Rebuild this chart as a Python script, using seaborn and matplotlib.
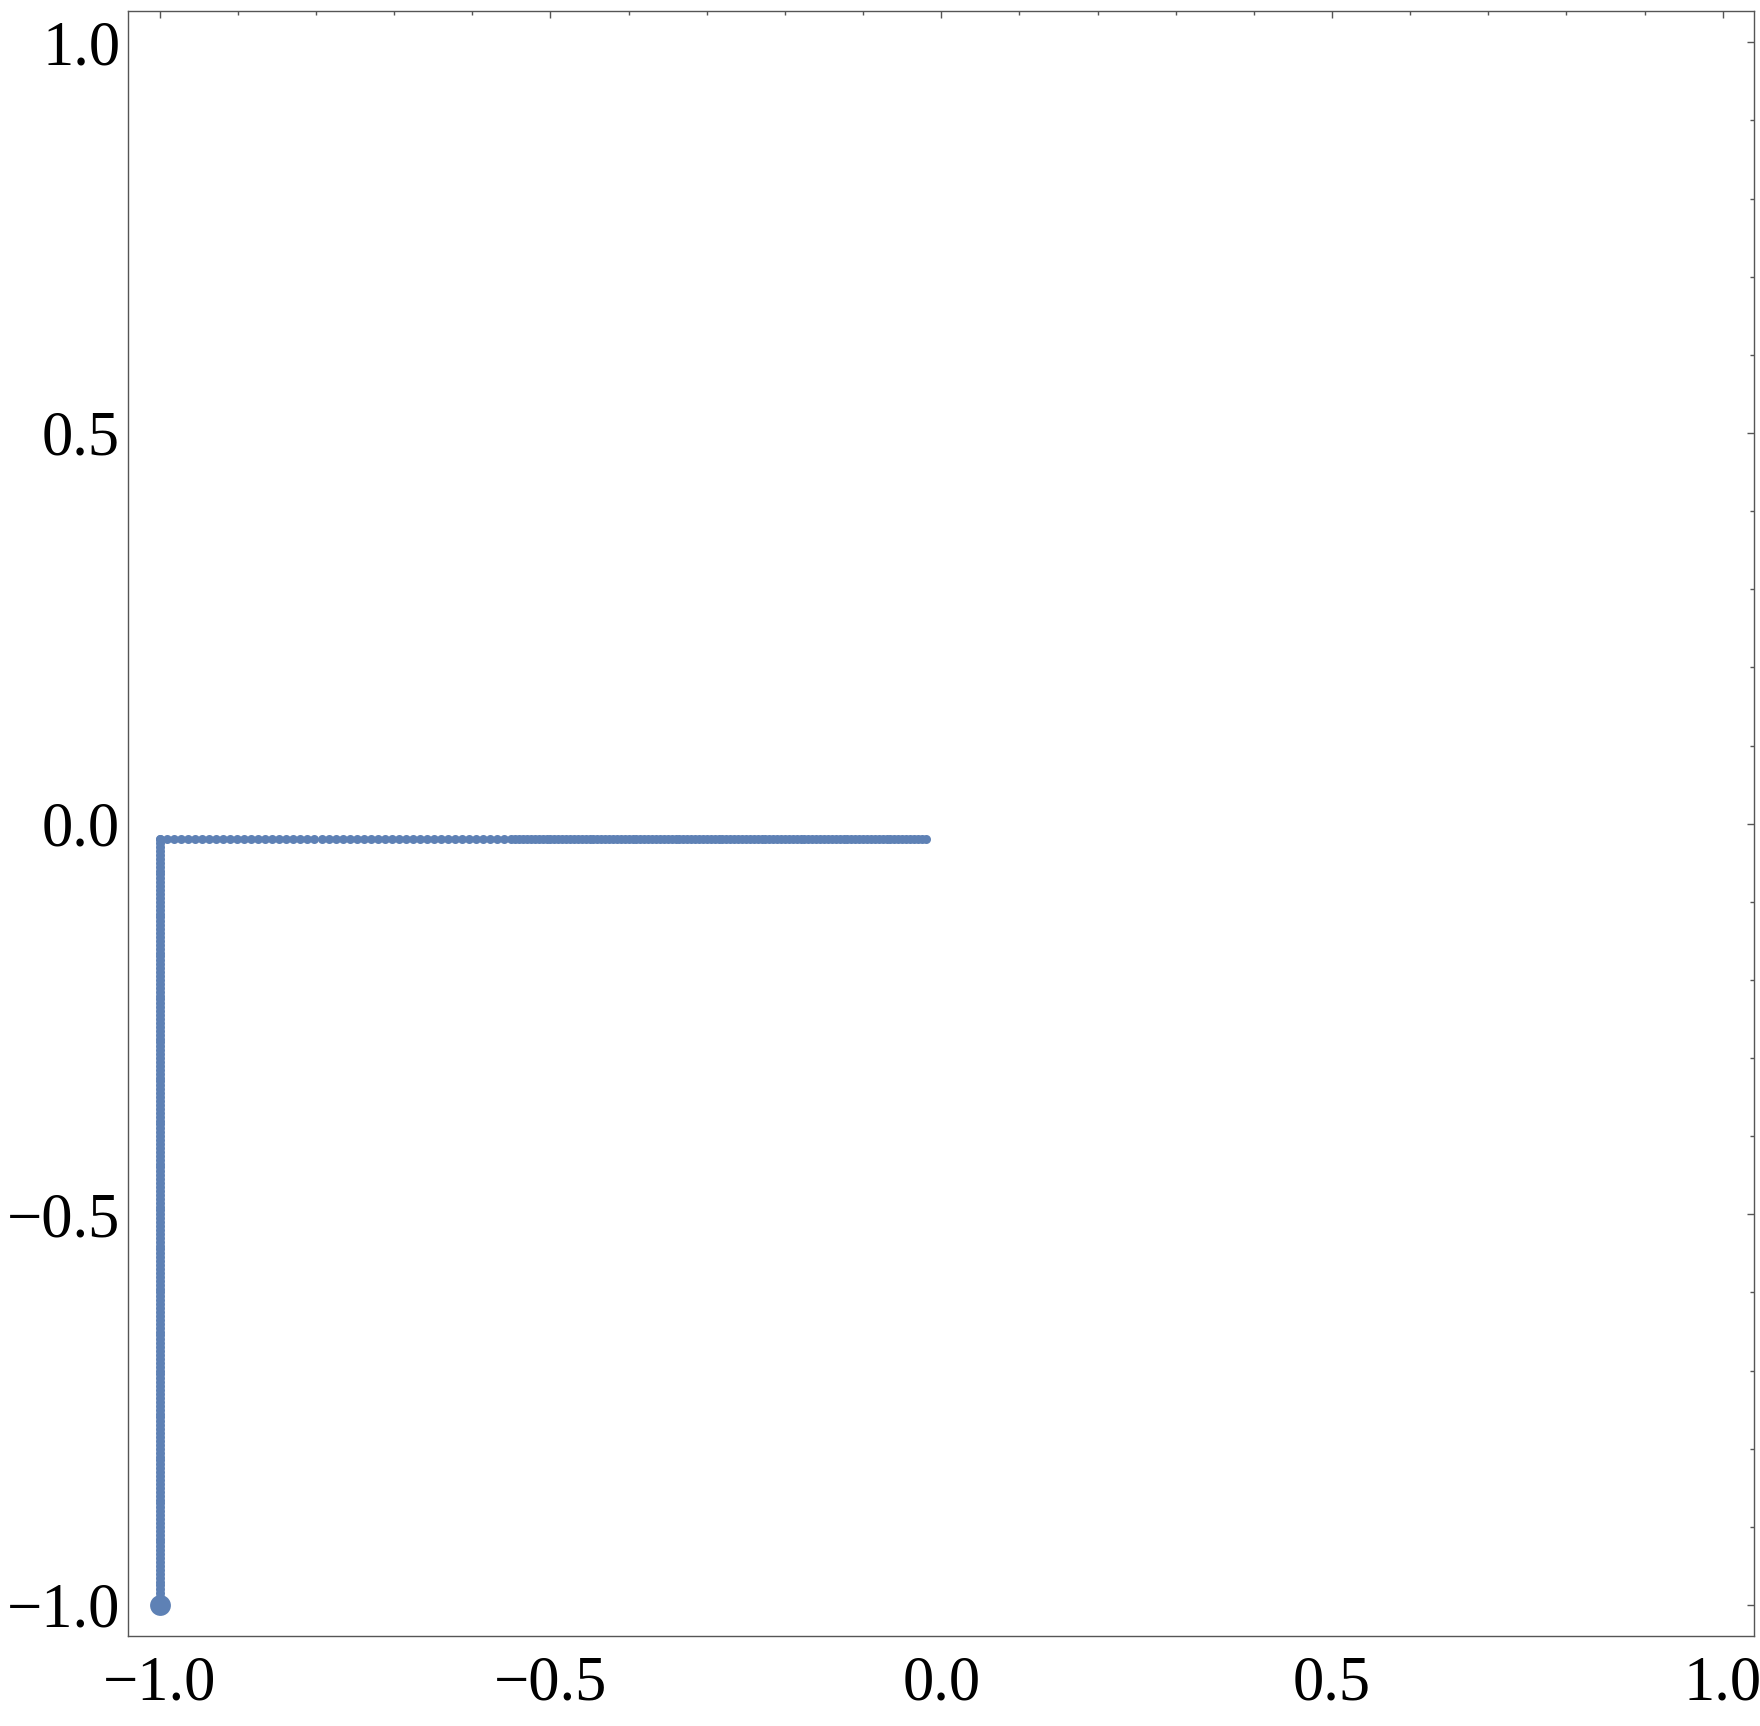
import numpy as np
import pandas as pd
import seaborn as sns
import matplotlib.pyplot as plt
from matplotlib.ticker import MultipleLocator

# puntos del tramo vertical (x = -1)
vert_y = [
    -1.000, -0.995, -0.990, -0.985, -0.980, -0.975, -0.970, -0.965, -0.960, -0.955,
    -0.950, -0.945, -0.940, -0.935, -0.930, -0.925, -0.920, -0.915, -0.910, -0.905,
    -0.900, -0.895, -0.890, -0.885, -0.880, -0.875, -0.870, -0.865, -0.860, -0.855,
    -0.850, -0.845, -0.840, -0.835, -0.830, -0.825, -0.820, -0.815, -0.810, -0.805,
    -0.800, -0.795, -0.790, -0.785, -0.780, -0.775, -0.770, -0.765, -0.760, -0.755,
    -0.750, -0.745, -0.740, -0.735, -0.730, -0.725, -0.720, -0.715, -0.710, -0.705,
    -0.700, -0.695, -0.690, -0.685, -0.680, -0.675, -0.670, -0.665, -0.660, -0.655,
    -0.650, -0.645, -0.640, -0.635, -0.630, -0.625, -0.620, -0.615, -0.610, -0.605,
    -0.600, -0.595, -0.590, -0.585, -0.580, -0.575, -0.570, -0.565, -0.560, -0.555,
    -0.550, -0.545, -0.540, -0.535, -0.530, -0.525, -0.520, -0.515, -0.510, -0.505,
    -0.500, -0.495, -0.490, -0.485, -0.480, -0.475, -0.470, -0.465, -0.460, -0.455,
    -0.450, -0.445, -0.440, -0.435, -0.430, -0.425, -0.420, -0.415, -0.410, -0.405,
    -0.400, -0.395, -0.390, -0.385, -0.380, -0.375, -0.370, -0.365, -0.360, -0.355,
    -0.350, -0.345, -0.340, -0.335, -0.330, -0.325, -0.320, -0.315, -0.310, -0.305,
    -0.300, -0.295, -0.290, -0.285, -0.280, -0.275, -0.270, -0.265, -0.260, -0.255,
    -0.250, -0.245, -0.240, -0.235, -0.230, -0.225, -0.220, -0.215, -0.210, -0.205,
    -0.200, -0.195, -0.190, -0.185, -0.180, -0.175, -0.170, -0.165, -0.160, -0.155,
    -0.150, -0.145, -0.140, -0.135, -0.130, -0.125, -0.120, -0.115, -0.110, -0.105,
    -0.100, -0.095, -0.090, -0.085, -0.080, -0.075, -0.070, -0.065, -0.060, -0.055,
    -0.050, -0.045, -0.040, -0.035, -0.030, -0.025, -0.020,
]
vert_x = [-1.0] * len(vert_y)

# puntos del tramo horizontal (y = -0.02), más densos hacia la derecha
horiz_x = [
    -1.000, -0.991, -0.982, -0.973, -0.964, -0.955, -0.946, -0.937, -0.928, -0.919,
    -0.910, -0.901, -0.892, -0.883, -0.874, -0.865, -0.856, -0.847, -0.838, -0.829,
    -0.820, -0.811, -0.802, -0.793, -0.784, -0.775, -0.766, -0.757, -0.748, -0.739,
    -0.730, -0.721, -0.712, -0.703, -0.694, -0.685, -0.676, -0.667, -0.658, -0.649,
    -0.640, -0.631, -0.622, -0.613, -0.604, -0.595, -0.586, -0.577, -0.568, -0.559,
    -0.550, -0.545, -0.540, -0.535, -0.530, -0.525, -0.520, -0.515, -0.510, -0.505,
    -0.500, -0.495, -0.490, -0.485, -0.480, -0.475, -0.470, -0.465, -0.460, -0.455,
    -0.450, -0.445, -0.440, -0.435, -0.430, -0.425, -0.420, -0.415, -0.410, -0.405,
    -0.400, -0.395, -0.390, -0.385, -0.380, -0.375, -0.370, -0.365, -0.360, -0.355,
    -0.350, -0.345, -0.340, -0.335, -0.330, -0.325, -0.320, -0.315, -0.310, -0.305,
    -0.300, -0.295, -0.290, -0.285, -0.280, -0.275, -0.270, -0.265, -0.260, -0.255,
    -0.250, -0.245, -0.240, -0.235, -0.230, -0.225, -0.220, -0.215, -0.210, -0.205,
    -0.200, -0.195, -0.190, -0.185, -0.180, -0.175, -0.170, -0.165, -0.160, -0.155,
    -0.150, -0.145, -0.140, -0.135, -0.130, -0.125, -0.120, -0.115, -0.110, -0.105,
    -0.100, -0.095, -0.090, -0.085, -0.080, -0.075, -0.070, -0.065, -0.060, -0.055,
    -0.050, -0.045, -0.040, -0.035, -0.030, -0.025, -0.020,
]
horiz_y = [-0.02] * len(horiz_x)

# punto inicial
start_x = [-1.0]
start_y = [-1.0]

color = "#5E81B5"
tick_color = "#555555"

sns.set_style("white")
plt.rcParams['font.family'] = ['Liberation Serif', 'DejaVu Serif']

camino = pd.DataFrame({
    "x": vert_x + horiz_x,
    "y": vert_y + horiz_y,
})
inicio = pd.DataFrame({"x": start_x, "y": start_y})

fig = plt.figure(figsize=(17.6, 17.26), dpi=100)
ax = fig.add_axes([0.073, 0.052, 0.9236, 0.9416])

sns.scatterplot(data=camino, x="x", y="y", color=color, s=42, linewidth=0, ax=ax)
sns.scatterplot(data=inicio, x="x", y="y", color=color, s=225, linewidth=0, ax=ax)

ax.set_xlim(-1.04, 1.04)
ax.set_ylim(-1.04, 1.04)
ax.set_xlabel("")
ax.set_ylabel("")

ax.xaxis.set_major_locator(MultipleLocator(0.5))
ax.yaxis.set_major_locator(MultipleLocator(0.5))
ax.xaxis.set_minor_locator(MultipleLocator(0.1))
ax.yaxis.set_minor_locator(MultipleLocator(0.1))
fmt = plt.FuncFormatter(lambda v, p: f"{v:.1f}".replace("-", "\u2212"))
ax.xaxis.set_major_formatter(fmt)
ax.yaxis.set_major_formatter(fmt)

ax.tick_params(which="both", direction="in", top=True, right=True,
               color=tick_color, width=1, labelsize=45, labelcolor="black")
ax.tick_params(which="major", length=5)
ax.tick_params(which="minor", length=3)
ax.tick_params(axis="x", which="major", pad=14)
ax.tick_params(axis="y", which="major", pad=6)

for s in ax.spines.values():
    s.set_color(tick_color)
    s.set_linewidth(1)

fig.savefig("out.png", dpi=100)
